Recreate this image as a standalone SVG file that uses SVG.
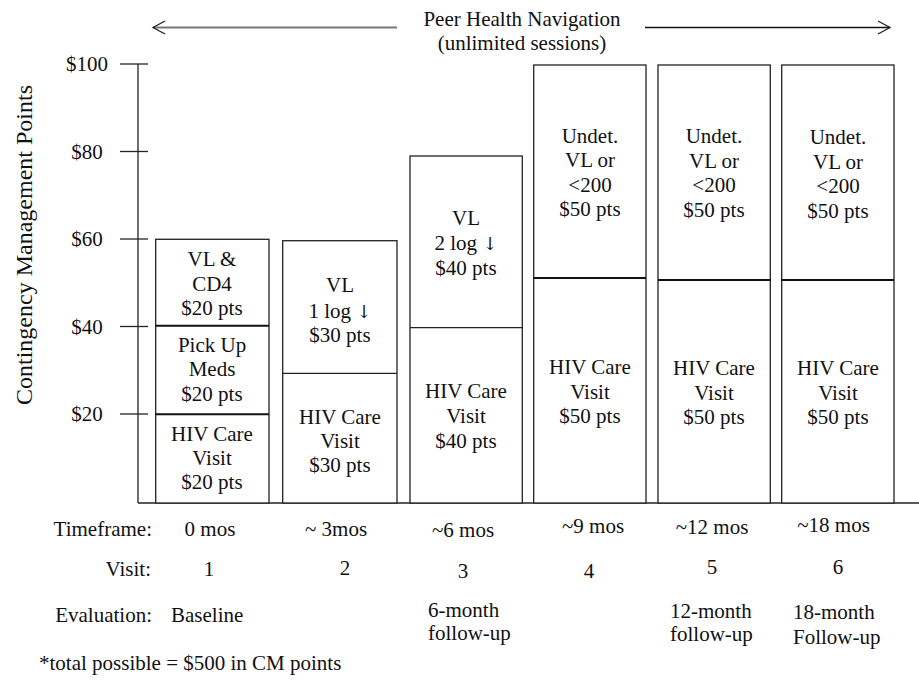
<svg xmlns="http://www.w3.org/2000/svg" width="919" height="686" viewBox="0 0 919 686">
<defs>
<style>
text{font-family:"Liberation Serif","Times New Roman",serif;font-size:21px;fill:#111;}
.c{text-anchor:middle;}
.r{text-anchor:end;}
.ar{font-family:"DejaVu Serif","DejaVu Sans",serif;font-size:18px;}
.box{fill:#fff;stroke:#222;stroke-width:1.3;}
.div{stroke:#111;stroke-width:2;}
.ax{stroke:#222;stroke-width:1.3;fill:none;}
</style>
</defs>
<rect width="919" height="686" fill="#fff"/>

<g id="header">
<line x1="153" y1="27.5" x2="397" y2="27.5" stroke="#777" stroke-width="2"/>
<polyline points="165,21 153,27.5 165,34" class="ax"/>
<line x1="645" y1="27.5" x2="890" y2="27.5" stroke="#111" stroke-width="1.5"/>
<polyline points="878,21 890,27.5 878,34" class="ax"/>
<text class="c" x="522" y="26">Peer Health Navigation</text>
<text class="c" x="522" y="50">(unlimited sessions)</text>
</g>

<g id="axis">
<line x1="138" y1="64" x2="138" y2="503" class="ax"/>
<line x1="138" y1="503" x2="919" y2="503" class="ax"/>
<line x1="120" y1="64" x2="148" y2="64" class="ax"/>
<line x1="120" y1="151.5" x2="148" y2="151.5" class="ax"/>
<line x1="120" y1="239" x2="148" y2="239" class="ax"/>
<line x1="120" y1="326.5" x2="148" y2="326.5" class="ax"/>
<line x1="120" y1="414" x2="148" y2="414" class="ax"/>
<text class="c" x="87" y="71">$100</text>
<text class="c" x="87" y="158.5">$80</text>
<text class="c" x="87" y="246">$60</text>
<text class="c" x="87" y="333.5">$40</text>
<text class="c" x="87" y="421">$20</text>
<text class="c" transform="translate(32,245) rotate(-90)" style="font-size:24px">Contingency Management Points</text>
</g>

<g id="bar1">
<rect class="box" x="155.7" y="239.3" width="113.3" height="263.7"/>
<line class="div" x1="155.7" y1="325.7" x2="269" y2="325.7"/>
<line class="div" x1="155.7" y1="414.3" x2="269" y2="414.3"/>
<text class="c" x="212" y="265.7">VL &amp;</text>
<text class="c" x="212" y="290.5">CD4</text>
<text class="c" x="212" y="315">$20 pts</text>
<text class="c" x="212" y="351.7">Pick Up</text>
<text class="c" x="212" y="376">Meds</text>
<text class="c" x="212" y="400.7">$20 pts</text>
<text class="c" x="212" y="440.7">HIV Care</text>
<text class="c" x="212" y="464.5">Visit</text>
<text class="c" x="212" y="489">$20 pts</text>
</g>

<g id="bar2">
<rect class="box" x="282.7" y="240.7" width="114.3" height="262.3"/>
<line class="box" x1="282.7" y1="373.3" x2="397" y2="373.3"/>
<text class="c" x="340" y="292.3">VL</text>
<text class="c" x="340" y="317.5">1 log <tspan class="ar">↓</tspan></text>
<text class="c" x="340" y="341.7">$30 pts</text>
<text class="c" x="340" y="424">HIV Care</text>
<text class="c" x="340" y="448.3">Visit</text>
<text class="c" x="340" y="472.3">$30 pts</text>
</g>

<g id="bar3">
<rect class="box" x="410" y="156" width="112.3" height="347"/>
<line class="box" x1="410" y1="327.7" x2="522.3" y2="327.7"/>
<text class="c" x="466" y="225">VL</text>
<text class="c" x="466" y="250">2 log <tspan class="ar">↓</tspan></text>
<text class="c" x="466" y="275">$40 pts</text>
<text class="c" x="466" y="398.3">HIV Care</text>
<text class="c" x="466" y="422.7">Visit</text>
<text class="c" x="466" y="448">$40 pts</text>
</g>

<g id="bar4">
<rect class="box" x="533.7" y="65" width="112.3" height="438"/>
<line class="div" x1="533.7" y1="278" x2="646" y2="278"/>
<text class="c" x="590" y="142.7">Undet.</text>
<text class="c" x="590" y="167.3">VL or</text>
<text class="c" x="590" y="191.7">&lt;200</text>
<text class="c" x="590" y="216">$50 pts</text>
<text class="c" x="590" y="374">HIV Care</text>
<text class="c" x="590" y="398.7">Visit</text>
<text class="c" x="590" y="423.3">$50 pts</text>
</g>

<g id="bar5">
<rect class="box" x="658" y="65" width="112.3" height="438"/>
<line class="div" x1="658" y1="280" x2="770.3" y2="280"/>
<text class="c" x="714" y="143.3">Undet.</text>
<text class="c" x="714" y="168">VL or</text>
<text class="c" x="714" y="192.3">&lt;200</text>
<text class="c" x="714" y="216.7">$50 pts</text>
<text class="c" x="714" y="375">HIV Care</text>
<text class="c" x="714" y="399.5">Visit</text>
<text class="c" x="714" y="424">$50 pts</text>
</g>

<g id="bar6">
<rect class="box" x="781.7" y="65" width="112.3" height="438"/>
<line class="div" x1="781.7" y1="280" x2="894" y2="280"/>
<text class="c" x="838" y="144">Undet.</text>
<text class="c" x="838" y="168.7">VL or</text>
<text class="c" x="838" y="193.3">&lt;200</text>
<text class="c" x="838" y="218">$50 pts</text>
<text class="c" x="838" y="375">HIV Care</text>
<text class="c" x="838" y="399.5">Visit</text>
<text class="c" x="838" y="424">$50 pts</text>
</g>

<g id="timeline">
<text class="r" x="152" y="536">Timeframe:</text>
<text class="c" x="210" y="536">0 mos</text>
<text class="c" x="336" y="536">~ 3mos</text>
<text class="c" x="463" y="537">~6 mos</text>
<text class="c" x="593" y="533">~9 mos</text>
<text class="c" x="712" y="534">~12 mos</text>
<text class="c" x="833.5" y="532">~18 mos</text>

<text class="r" x="151" y="576">Visit:</text>
<text class="c" x="209" y="576">1</text>
<text class="c" x="345" y="575">2</text>
<text class="c" x="463" y="578">3</text>
<text class="c" x="589" y="578">4</text>
<text class="c" x="712" y="574">5</text>
<text class="c" x="838" y="574">6</text>

<text class="r" x="152" y="622">Evaluation:</text>
<text x="171" y="622">Baseline</text>
<text x="428" y="617">6-month</text>
<text x="428" y="640">follow-up</text>
<text x="670" y="618">12-month</text>
<text x="670" y="641">follow-up</text>
<text x="793" y="619">18-month</text>
<text x="793" y="644">Follow-up</text>

<text x="39" y="670">*total possible = $500 in CM points</text>
</g>
</svg>
